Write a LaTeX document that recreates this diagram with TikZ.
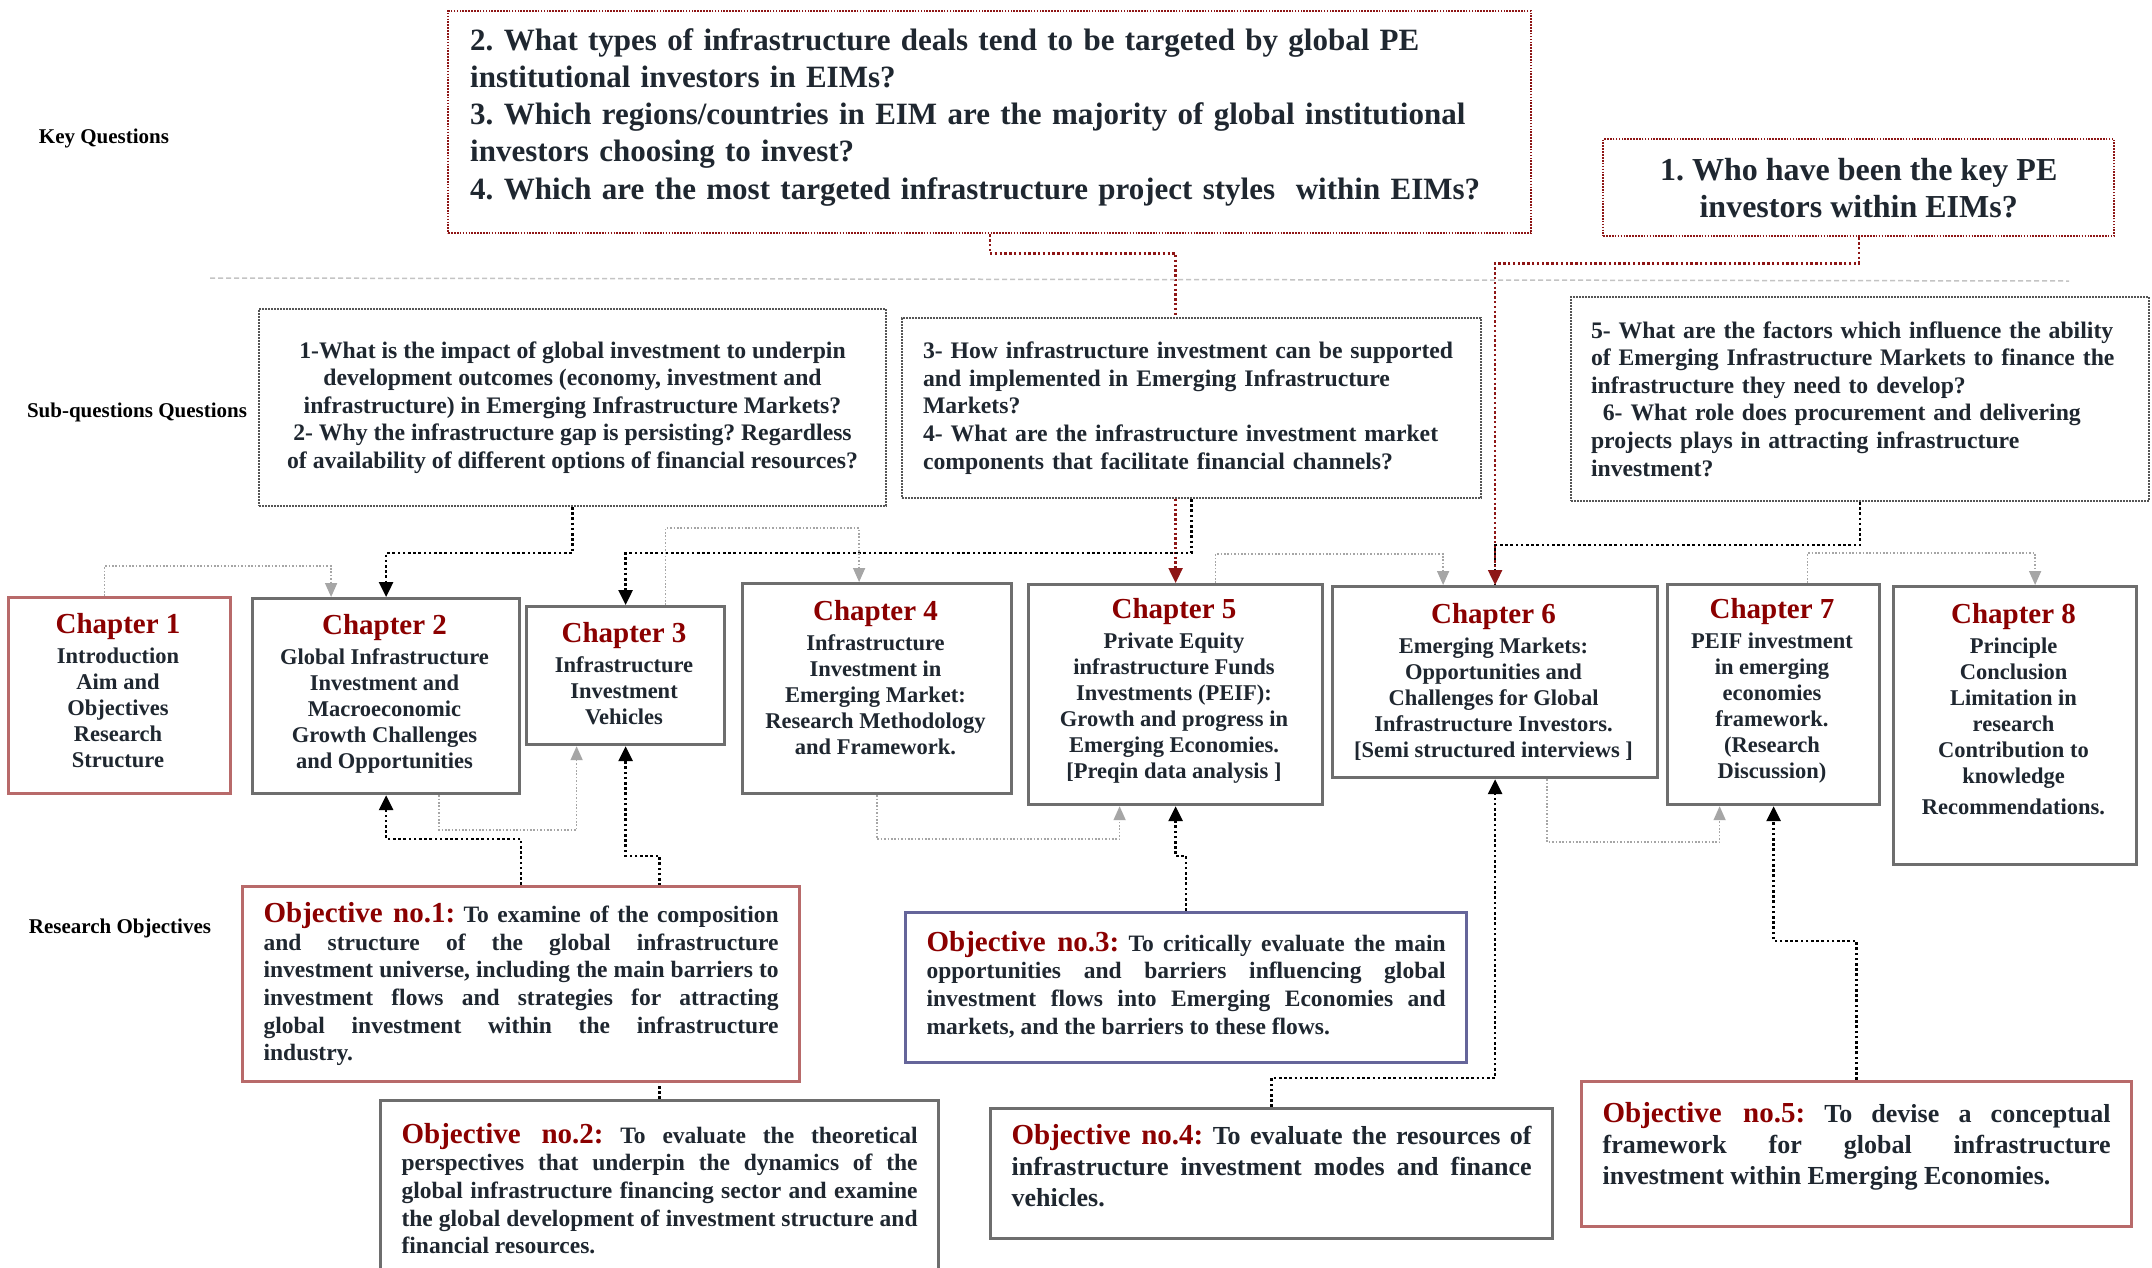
\documentclass[tikz,border=0pt]{standalone}
\usepackage{fontspec}
\setmainfont{Liberation Serif}
\usetikzlibrary{arrows.meta}

\definecolor{ink}{HTML}{1F2730}
\definecolor{headred}{HTML}{8B0000}
\definecolor{kqred}{HTML}{8E1616}
\definecolor{sqgray}{HTML}{555555}
\definecolor{boxgray}{HTML}{6E6E6E}
\definecolor{rosebox}{HTML}{B86A6A}
\definecolor{violetbox}{HTML}{65659A}
\definecolor{linkgray}{HTML}{A6A6A6}
\definecolor{rulegray}{HTML}{C4C4C4}

\pgfdeclarelayer{back}
\pgfdeclarelayer{links}
\pgfsetlayers{back,links,main}

\newcommand\ChapHead[1]{{\fontsize{29}{31}\selectfont\color{headred}#1}}
\newcommand\ObjHead[1]{{\fontsize{29}{31}\selectfont\color{headred}#1}}
% extra depth on a last line lifts a block inside its box
\newcommand\LiftBy[1]{\rule[-#1]{0pt}{0pt}}

\tikzset{
  every node/.append style={text=ink, font=\bfseries},
  rowlabel/.style={font=\bfseries\fontsize{21}{25}\selectfont, text=black},
  kqbox/.style={draw=kqred, line width=2.4pt, dash pattern=on 1.6pt off 1.3pt,
    fill=white, anchor=north west, inner ysep=0pt},
  sqbox/.style={draw=sqgray, line width=2pt, dash pattern=on 1.6pt off 1.4pt,
    fill=white, anchor=north west, inner ysep=0pt,
    font=\bfseries\fontsize{23.7}{27.6}\selectfont},
  chapbox/.style={draw=boxgray, line width=3.2pt, fill=white, anchor=north west,
    inner sep=0pt},
  chaptext/.style={align=center, inner sep=0pt,
    font=\bfseries\fontsize{22.5}{26}\selectfont},
  objbox/.style={draw=boxgray, line width=3.2pt, fill=white, anchor=north west,
    inner xsep=21pt, inner ysep=0pt, align=justify},
  objsmall/.style={font=\bfseries\fontsize{23.5}{27.6}\selectfont},
  objlarge/.style={font=\bfseries\fontsize{26}{31}\selectfont},
  blklink/.style={draw=black, line width=2.6pt, dash pattern=on 2.6pt off 2.6pt,
    -{Triangle[length=15pt,width=14pt]}},
  graylink/.style={draw=linkgray, line width=1.6pt, dash pattern=on 1.6pt off 1.8pt,
    -{Triangle[length=14pt,width=12pt]}},
  redlink/.style={draw=kqred, line width=2.4pt, dash pattern=on 2.4pt off 2.4pt,
    -{Triangle[length=15pt,width=14pt]}},
}

\begin{document}
\frenchspacing
\begin{tikzpicture}[x=1pt,y=-1pt]
\useasboundingbox (0,0) rectangle (2152,1267);
\begin{pgfonlayer}{back}
  \fill[white] (0,0) rectangle (2152,1267);
\end{pgfonlayer}
\clip (0,0) rectangle (2152,1267);

% row labels
\node[rowlabel] (lblkey) at (104,138) {Key Questions};
\node[rowlabel] (lblsub) at (137,412) {Sub-questions Questions};
\node[rowlabel] (lblobj) at (120,928) {Research Objectives};

% separator between key questions and sub-questions
\draw[rulegray, line width=1.5pt, dash pattern=on 5pt off 3pt] (210,278) -- (2069,281);

% key questions
\node[kqbox, font=\bfseries\fontsize{31}{37.2}\selectfont,
      minimum width=1083pt, minimum height=222pt, text width=1039pt,
      inner xsep=22pt, align=left] (kq234) at (447,10)
  {2. What types of infrastructure deals tend to be targeted by global PE\\
   institutional investors in EIMs?\\
   3. Which regions/countries in EIM are the majority of global institutional\\
   investors choosing to invest?\\
   4. Which are the most targeted infrastructure project styles~ within EIMs?\LiftBy{17pt}};
\node[kqbox, font=\bfseries\fontsize{32}{37}\selectfont,
      minimum width=511pt, minimum height=97pt, align=center] (kq1) at (1602,138)
  {1. Who have been the key PE\\ investors within EIMs?};

% sub-questions
\node[sqbox, minimum width=627pt, minimum height=197pt, align=center] (sq12) at (258,308)
  {1-What is the impact of global investment to underpin\\
   development outcomes (economy, investment and\\
   infrastructure) in Emerging Infrastructure Markets?\\
   2- Why the infrastructure gap is persisting? Regardless\\
   of availability of different options of financial resources?};
\node[sqbox, minimum width=579pt, minimum height=180pt, text width=537pt,
      inner xsep=21pt, align=left] (sq34) at (901,317)
  {3- How infrastructure investment can be supported\\
   and implemented in Emerging Infrastructure\\
   Markets?\\
   4- What are the infrastructure investment market\\
   components that facilitate financial channels?};
\node[sqbox, minimum width=578pt, minimum height=204pt, text width=538pt,
      inner xsep=20pt, align=left] (sq56) at (1570,296)
  {5- What are the factors which influence the ability\\
   of Emerging Infrastructure Markets to finance the\\
   infrastructure they need to develop?\\
   \hphantom{x}6- What role does procurement and delivering\\
   projects plays in attracting infrastructure\\
   investment?};

% chapter boxes
\node[chapbox, draw=rosebox, minimum width=222pt, minimum height=196pt] (ch1) at (7,596) {};
\node[chapbox, minimum width=267pt, minimum height=195pt] (ch2) at (251,597) {};
\node[chapbox, minimum width=198pt, minimum height=138pt] (ch3) at (525,605) {};
\node[chapbox, minimum width=269pt, minimum height=210pt] (ch4) at (741,582) {};
\node[chapbox, minimum width=294pt, minimum height=220pt] (ch5) at (1027,583) {};
\node[chapbox, minimum width=325pt, minimum height=191pt] (ch6) at (1331,585) {};
\node[chapbox, minimum width=212pt, minimum height=220pt] (ch7) at (1666,583) {};
\node[chapbox, minimum width=243pt, minimum height=278pt] (ch8) at (1892,585) {};

% chapter contents
\node[chaptext] (ch1t) at (118,691)
  {\ChapHead{Chapter 1}\\[4pt] Introduction\\ Aim and\\ Objectives\\ Research\\ Structure};
\node[chaptext] (ch2t) at (384.5,694)
  {\ChapHead{Chapter 2}\\[4pt] Global Infrastructure\\ Investment and\\ Macroeconomic\\ Growth Challenges\\ and Opportunities};
\node[chaptext] (ch3t) at (624,674)
  {\ChapHead{Chapter 3}\\[4pt] Infrastructure\\ Investment\\ Vehicles};
\node[chaptext] (ch4t) at (875.5,678)
  {\ChapHead{Chapter 4}\\[4pt] Infrastructure\\ Investment in\\ Emerging Market:\\ Research Methodology\\ and Framework.};
\node[chaptext] (ch5t) at (1174,691)
  {\ChapHead{Chapter 5}\\[4pt] Private Equity\\ infrastructure Funds\\ Investments (PEIF):\\ Growth and progress in\\ Emerging Economies.\\ {[Preqin data analysis ]}};
\node[chaptext] (ch6t) at (1493.5,681.5)
  {\ChapHead{Chapter 6}\\[4pt] Emerging Markets:\\ Opportunities and\\ Challenges for Global\\ Infrastructure Investors.\\ {[Semi structured interviews ]}};
\node[chaptext] (ch7t) at (1772,691)
  {\ChapHead{Chapter 7}\\[4pt] PEIF investment\\ in emerging\\ economies\\ framework.\\ (Research\\ Discussion)};
\node[chaptext] (ch8t) at (2013.5,709)
  {\ChapHead{Chapter 8}\\[4pt] Principle\\ Conclusion\\ Limitation in\\ research\\ Contribution to\\ knowledge\\[5pt] Recommendations.};

% research objectives
\node[objbox, objsmall, draw=rosebox, minimum width=557pt, minimum height=195pt,
      text width=515pt] (obj1) at (241,885)
  {\ObjHead{Objective no.1:} To examine of the composition\linebreak
   and structure of the global infrastructure\linebreak
   investment universe, including the main barriers to\linebreak
   investment flows and strategies for attracting\linebreak
   global investment within the infrastructure\linebreak
   industry.};
\node[objbox, objsmall, minimum width=558pt, minimum height=176pt,
      text width=516pt] (obj2) at (379,1099)
  {\ObjHead{Objective no.2:} To evaluate the theoretical\linebreak
   perspectives that underpin the dynamics of the\linebreak
   global infrastructure financing sector and examine\linebreak
   the global development of investment structure and\linebreak
   financial resources.};
\node[objbox, objsmall, draw=violetbox, minimum width=561pt, minimum height=150pt,
      text width=519pt] (obj3) at (904,911)
  {\ObjHead{Objective no.3:} To critically evaluate the main\linebreak
   opportunities and barriers influencing global\linebreak
   investment flows into Emerging Economies and\linebreak
   markets, and the barriers to these flows.\LiftBy{10pt}};
\node[objbox, objlarge, minimum width=562pt, minimum height=130pt,
      text width=520pt] (obj4) at (989,1107)
  {\ObjHead{Objective no.4:} To evaluate the resources of\linebreak
   infrastructure investment modes and finance\linebreak
   vehicles.\LiftBy{16pt}};
\node[objbox, objlarge, draw=rosebox, minimum width=550pt, minimum height=145pt,
      text width=508pt] (obj5) at (1580,1080)
  {\ObjHead{Objective no.5:} To devise a conceptual\linebreak
   framework for global infrastructure\linebreak
   investment within Emerging Economies.\LiftBy{22pt}};

% connectors, kept behind the boxes
\begin{pgfonlayer}{links}
  % key questions feeding the sub-question row and the chapters
  \draw[redlink, -] (kq234.south) -- ++(0,19) -| (sq34.north -| ch5.north);
  \draw[redlink] (sq34.south -| ch5.north) -- (ch5.north);
  \draw[blklink, -] (sq56.south) -- ++(0,43) -| (ch6.north);
  \draw[redlink] (kq1.south) -- ++(0,26) -| (ch6.north);
  \draw[blklink] (sq12.south) -- ++(0,46) -| (ch2.north);
  \draw[blklink] (sq34.south) -- ++(0,54) -| (ch3.north);
  % chapter to chapter
  \draw[graylink] ([xshift=-15pt]ch1.north) -- ++(0,-30) -| ([xshift=-55pt]ch2.north);
  \draw[graylink] ([xshift=40pt]ch3.north) -- ++(0,-77) -| ([xshift=-18pt]ch4.north);
  \draw[graylink] ([xshift=40pt]ch5.north) -- ++(0,-29) -| ([xshift=-52pt]ch6.north);
  \draw[graylink] ([xshift=34pt]ch7.north) -- ++(0,-30) -| ([xshift=20pt]ch8.north);
  \draw[graylink] ([xshift=53pt]ch2.south) -- ++(0,35) -| ([xshift=-49pt]ch3.south);
  \draw[graylink] (ch4.south) -- ++(0,44) -| ([xshift=-56pt]ch5.south);
  \draw[graylink] ([xshift=52pt]ch6.south) -- ++(0,63) -| ([xshift=-54pt]ch7.south);
  % objectives up to chapters
  \draw[blklink] (obj1.north) -- ++(0,-46) -| (ch2.south);
  \draw[blklink] (obj2.north) -- ++(0,-243) -| (ch3.south);
  \draw[blklink] (obj3.north) -- ++(0,-55) -| (ch5.south);
  \draw[blklink] (obj4.north) -- ++(0,-29) -| (ch6.south);
  \draw[blklink] (obj5.north) -- ++(0,-139) -| (ch7.south);
\end{pgfonlayer}
\end{tikzpicture}
\end{document}
